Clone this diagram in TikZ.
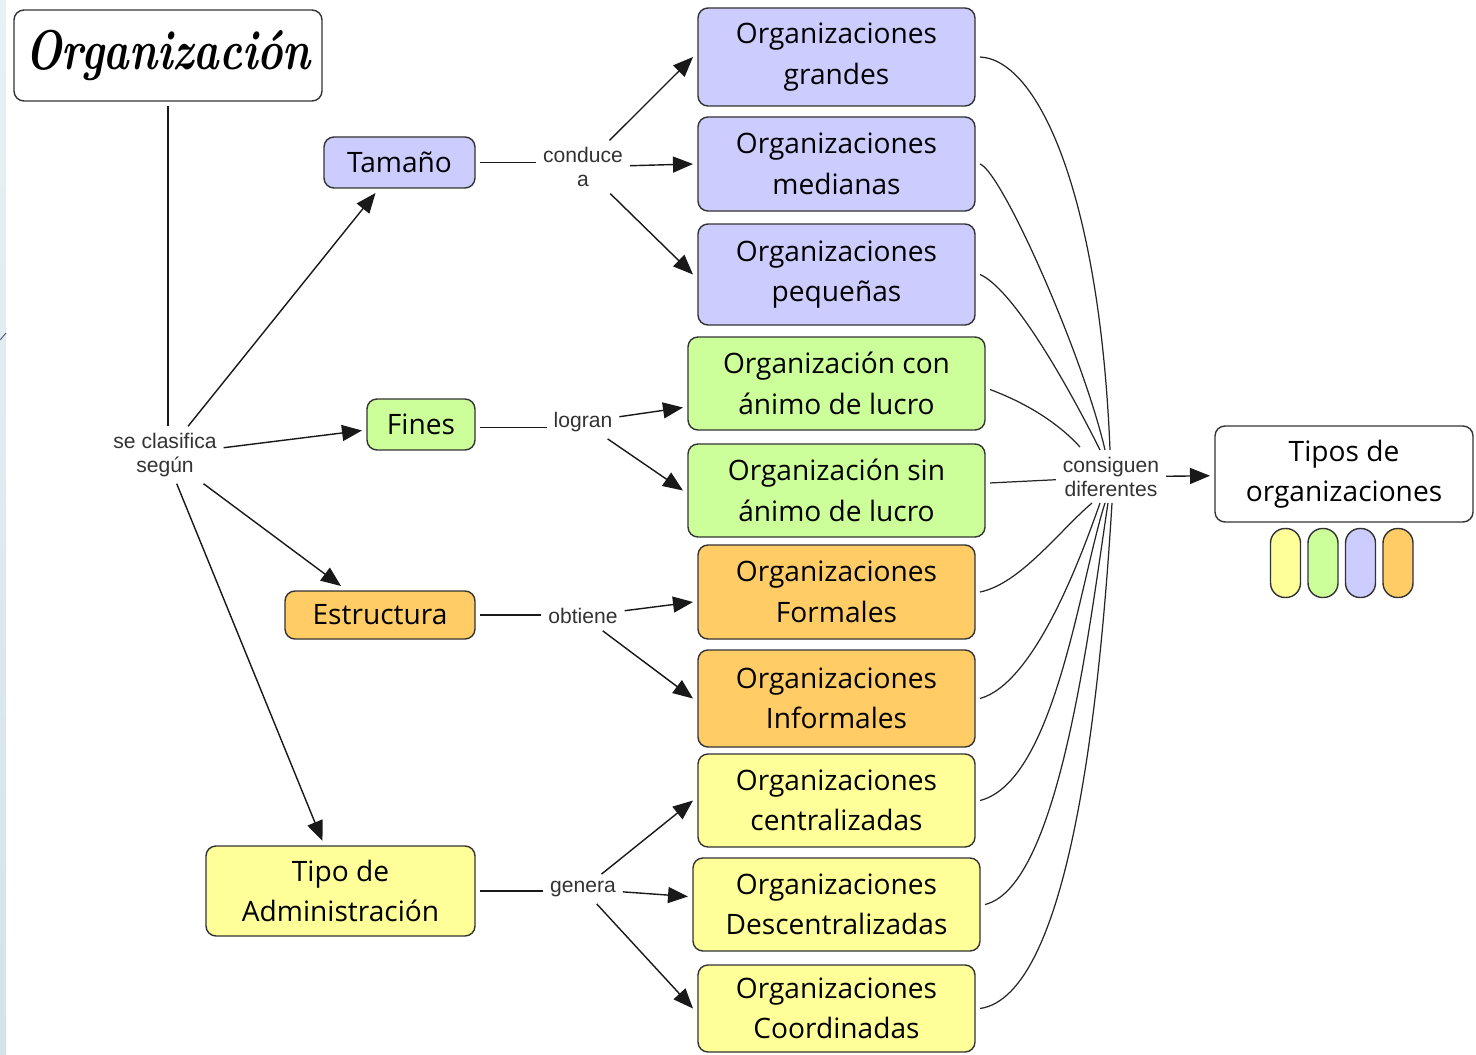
\documentclass[tikz,border=0pt]{standalone}
\usepackage{fontspec}
\newfontfamily\boxfont{Open Sans}
\newfontfamily\lblfont{Liberation Sans}
\usetikzlibrary{arrows.meta,calc}

\definecolor{cLav}{HTML}{CCCCFF}
\definecolor{cGrn}{HTML}{CCFF99}
\definecolor{cOrg}{HTML}{FFCC66}
\definecolor{cYel}{HTML}{FFFF99}
\definecolor{cEdge}{HTML}{333333}
\definecolor{cStripTop}{HTML}{E8F1F4}
\definecolor{cStripBot}{HTML}{D2E3EA}
\definecolor{cMark}{HTML}{5A6E80}

\newcommand\boxtext{\boxfont\fontsize{16}{23}\selectfont}
\newcommand\lbltext{\lblfont\fontsize{12}{13.5}\selectfont}
\newcommand\titletext{\bfseries\itshape\fontsize{24.5}{28}\selectfont}

\begin{document}
\begin{tikzpicture}[x=0.02cm, y=-0.02cm,
  box/.style={draw=cEdge, line width=0.8pt, rounded corners=0.2cm, align=center,
              font=\boxtext, inner sep=0pt, outer sep=0.1cm},
  wh/.style 2 args={minimum width=#1*0.02cm, minimum height=#2*0.02cm},
  pill/.style={draw=cEdge, line width=0.8pt, rounded corners=0.29cm, inner sep=0pt,
               minimum width=0.6cm, minimum height=1.38cm},
  lbl/.style={font=\lbltext, text=black!80, align=center, inner sep=1pt, outer sep=3pt},
  link/.style={line width=0.8pt, draw=black!90},
  arr/.style={link, -{Triangle[length=0.4cm, width=0.32cm]}},
  curve/.style={line width=0.7pt, draw=black!85}]

% page and left edge strip
\useasboundingbox (0,0) rectangle (1476,1054);
\fill[white] (0,0) rectangle (1476,1054);
\shade[top color=cStripTop, bottom color=cStripBot] (0,0) rectangle (6,1054);
\draw[cMark, line width=0.6pt] (0,340) -- (6,333);

% title and category boxes
\node[box, fill=white, wh={308}{91}, font=\titletext] (org) at (168,55.5)
  {\raisebox{3pt}{\scalebox{1}[1.3]{Organización}}};
\node[box, fill=cLav, wh={151}{51}] (tam) at (399.5,162.5) {Tamaño};
\node[box, fill=cGrn, wh={108}{51}] (fin) at (421,424.5) {Fines};
\node[box, fill=cOrg, wh={190}{48}] (est) at (380,615) {Estructura};
\node[box, fill=cYel, wh={269}{90}] (adm) at (340.5,891) {Tipo de\\Administración};

% kinds of organisations
\node[box, fill=cLav, wh={277}{98}]  (gra) at (836.5,57)    {Organizaciones\\grandes};
\node[box, fill=cLav, wh={277}{94}]  (med) at (836.5,164)   {Organizaciones\\medianas};
\node[box, fill=cLav, wh={277}{101}] (peq) at (836.5,274.5) {Organizaciones\\pequeñas};
\node[box, fill=cGrn, wh={297}{93}]  (con) at (836.5,383.5) {Organización con\\ánimo de lucro};
\node[box, fill=cGrn, wh={297}{93}]  (sin) at (836.5,490.5) {Organización sin\\ánimo de lucro};
\node[box, fill=cOrg, wh={277}{94}]  (frm) at (836.5,592)   {Organizaciones\\Formales};
\node[box, fill=cOrg, wh={277}{97}]  (inf) at (836.5,698.5) {Organizaciones\\Informales};
\node[box, fill=cYel, wh={277}{93}]  (cen) at (836.5,800.5) {Organizaciones\\centralizadas};
\node[box, fill=cYel, wh={287}{93}]  (des) at (836.5,904.5) {Organizaciones\\Descentralizadas};
\node[box, fill=cYel, wh={277}{87}]  (coo) at (836.5,1008.5) {Organizaciones\\Coordinadas};

% result and colour key
\node[box, fill=white, wh={258}{96}] (tipos) at (1344,474) {Tipos de\\organizaciones};
\node[pill, fill=cYel] (k1) at (1285.5,563) {};
\node[pill, fill=cGrn] (k2) at (1323,563) {};
\node[pill, fill=cLav] (k3) at (1360.5,563) {};
\node[pill, fill=cOrg] (k4) at (1398,563) {};

% linking phrases
\node[lbl] (sc)   at (165,455)  {se clasifica\\según};
\node[lbl] (cond) at (583,167)  {conduce\\a};
\node[lbl] (log)  at (583,422)  {logran};
\node[lbl] (obt)  at (583,616)  {obtiene};
\node[lbl] (gen)  at (583,889)  {genera};
\node[lbl] (cd)   at (1111,477) {consiguen\\diferentes};

% classification branches
\draw[link] (org.south) -- (org.south |- sc.north);
\draw[arr] (sc) -- ($(tam.south)+(-24,0)$);
\draw[arr] (sc) -- ($(fin.west)+(0,6)$);
\draw[arr] (sc) -- ($(est.north)+(-39,0)$);
\draw[arr] (sc) -- ($(adm.north)+(-18,0)$);

\draw[link] (tam.east) -- (tam.east -| cond.west);
\draw[arr] (cond) -- (gra.west);
\draw[arr] (cond) -- (med.west);
\draw[arr] (cond) -- (peq.west);

\draw[link] ($(fin.east)+(0,3)$) -- ($(fin.east -| log.west)+(0,3)$);
\draw[arr] (log) -- ($(con.west)+(0,24)$);
\draw[arr] (log) -- (sin.west);

\draw[link] (est.east) -- (est.east -| obt.west);
\draw[arr] (obt) -- ($(frm.west)+(0,10)$);
\draw[arr] (obt) -- (inf.west);

\draw[link] (adm.east) -- (adm.east -| gen.west);
\draw[arr] (gen) -- (cen.west);
\draw[arr] (gen) -- ($(des.west)+(0,-8)$);
\draw[arr] (gen) -- (coo.west);

% every kind leads to the common phrase
\draw[curve] (gra.east) .. controls +(60,3) and +(-10,-250) .. ($(cd.center)+(-1,-27)$);
\draw[curve] (med.east) .. controls +(22,8) and +(-22,-95) .. ($(cd.center)+(-6,-27)$);
\draw[curve] (peq.east) .. controls +(30,13) and +(-40,-80) .. ($(cd.center)+(-11,-27)$);
\draw[curve] ($(con.east)+(0,6)$) .. controls +(40,15) and +(-20,-22) .. ($(cd.center)+(-31,-30)$);
\draw[curve] (sin) -- (cd);
\draw[curve] (frm.east) .. controls +(40,-8) and +(-32,27) .. ($(cd.center)+(-19,26)$);
\draw[curve] (inf.east) .. controls +(54,-15) and +(-20,57) .. ($(cd.center)+(-11,26)$);
\draw[curve] (cen.east) .. controls +(75,-19) and +(-25,77) .. ($(cd.center)+(-6,26)$);
\draw[curve] (des.east) .. controls +(75,-18) and +(-18,117) .. ($(cd.center)+(-3,26)$);
\draw[curve] (coo.east) .. controls +(90,-13) and +(-12,197) .. ($(cd.center)+(1,26)$);

\draw[arr] (cd) -- (tipos);
\end{tikzpicture}
\end{document}
